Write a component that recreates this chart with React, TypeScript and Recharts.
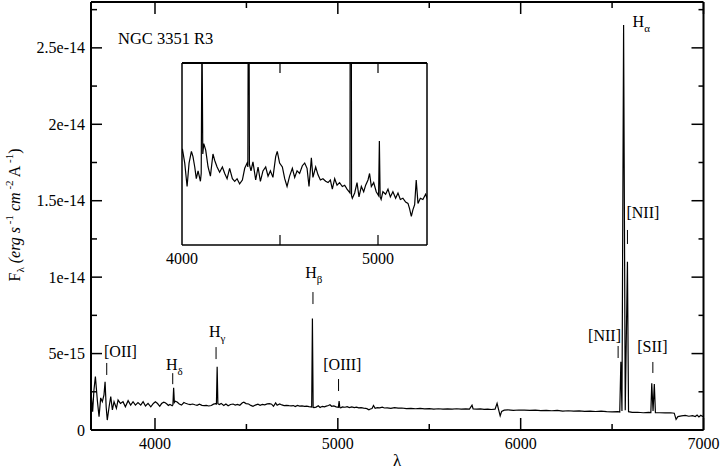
import React from "react";
import { LineChart, Line, XAxis, YAxis, ReferenceDot } from "recharts";

// NGC 3351 R3 spectrum: wavelength in Angstrom, flux in units of 1e-15 erg s^-1 cm^-2 A^-1
const wavelength = [
  3650, 3659, 3666, 3674, 3685, 3694, 3703, 3712, 3721, 3727, 3733, 3739, 3749, 3758, 3767, 3776,
  3789, 3798, 3811, 3825, 3838, 3853, 3867, 3880, 3893, 3907, 3922, 3935, 3948, 3962, 3977, 3991,
  4002, 4014, 4026, 4036, 4048, 4056, 4065, 4073, 4082, 4094, 4098, 4102, 4106, 4111, 4121, 4133,
  4145, 4158, 4167, 4179, 4192, 4206, 4218, 4230, 4243, 4257, 4269, 4281, 4294, 4308, 4320, 4332,
  4336, 4340, 4344, 4352, 4362, 4376, 4388, 4400, 4413, 4427, 4439, 4451, 4464, 4478, 4486, 4498,
  4512, 4524, 4536, 4549, 4563, 4575, 4587, 4600, 4614, 4626, 4638, 4648, 4660, 4668, 4682, 4694,
  4706, 4719, 4733, 4745, 4757, 4767, 4779, 4791, 4804, 4818, 4830, 4842, 4852, 4857, 4861, 4865,
  4869, 4881, 4893, 4903, 4915, 4927, 4937, 4949, 4957, 4966, 4978, 4991, 5003, 5007, 5011, 5016,
  5025, 5039, 5051, 5063, 5076, 5090, 5102, 5114, 5127, 5141, 5153, 5161, 5170, 5178, 5187, 5195,
  5204, 5216, 5229, 5243, 5255, 5270, 5290, 5310, 5330, 5350, 5375, 5400, 5425, 5450, 5475, 5500,
  5525, 5550, 5575, 5600, 5625, 5650, 5675, 5700, 5720, 5734, 5740, 5760, 5780, 5800, 5820, 5840,
  5860, 5871, 5880, 5888, 5896, 5910, 5930, 5960, 5990, 6020, 6050, 6080, 6110, 6140, 6170, 6200,
  6230, 6260, 6290, 6320, 6350, 6380, 6410, 6440, 6470, 6500, 6530, 6542, 6548, 6554, 6563, 6572,
  6584, 6590, 6610, 6640, 6670, 6700, 6712, 6717, 6724, 6731, 6737, 6760, 6790, 6820, 6840, 6850,
  6860, 6880, 6900, 6920, 6940, 6955, 6965, 6975, 6985, 6995, 7000,
];
const flux = [
  2.5, 1.2, 2.6, 3.5, 1.9, 0.87, 2.1, 1.85, 2.3, 3.16, 1.5, 0.65, 1.52, 2.18, 1.31, 1.85,
  1.42, 1.96, 1.74, 1.85, 1.52, 1.92, 1.63, 1.85, 1.63, 1.79, 1.63, 1.85, 1.57, 1.74, 1.52, 1.74,
  1.84, 1.73, 1.55, 1.73, 1.82, 1.78, 1.7, 1.61, 1.67, 1.59, 1.65, 2.77, 1.8, 1.88, 1.83, 1.7,
  1.63, 1.8, 1.75, 1.7, 1.66, 1.7, 1.65, 1.61, 1.69, 1.61, 1.59, 1.61, 1.57, 1.6, 1.69, 1.73,
  1.7, 4.14, 1.72, 1.67, 1.74, 1.6, 1.7, 1.59, 1.67, 1.7, 1.63, 1.67, 1.62, 1.78, 1.82, 1.73,
  1.7, 1.61, 1.55, 1.63, 1.69, 1.62, 1.67, 1.65, 1.71, 1.73, 1.69, 1.55, 1.77, 1.62, 1.7, 1.64,
  1.6, 1.61, 1.59, 1.58, 1.6, 1.53, 1.61, 1.56, 1.58, 1.55, 1.56, 1.53, 1.51, 1.5, 7.3, 1.48,
  1.46, 1.5, 1.58, 1.47, 1.55, 1.51, 1.56, 1.6, 1.65, 1.55, 1.58, 1.51, 1.48, 1.9, 1.47, 1.45,
  1.51, 1.49, 1.53, 1.47, 1.51, 1.46, 1.5, 1.45, 1.46, 1.43, 1.42, 1.38, 1.32, 1.37, 1.41, 1.6,
  1.42, 1.46, 1.45, 1.49, 1.44, 1.45, 1.42, 1.46, 1.43, 1.44, 1.4, 1.42, 1.39, 1.41, 1.38, 1.4,
  1.37, 1.39, 1.36, 1.38, 1.37, 1.39, 1.36, 1.38, 1.37, 1.62, 1.38, 1.36, 1.38, 1.35, 1.37, 1.34,
  1.36, 1.74, 1.3, 0.92, 1.22, 1.3, 1.32, 1.29, 1.31, 1.3, 1.28, 1.3, 1.27, 1.29, 1.26, 1.28,
  1.24, 1.26, 1.23, 1.25, 1.22, 1.24, 1.21, 1.23, 1.2, 1.19, 1.2, 1.18, 4.46, 1.25, 26.5, 1.3,
  11.0, 1.2, 1.15, 1.16, 1.13, 1.15, 1.14, 3.05, 1.25, 3.0, 1.14, 1.13, 1.12, 1.13, 1.1, 0.7,
  0.88, 0.92, 0.95, 0.9, 0.94, 0.88, 0.98, 0.86, 0.96, 0.89, 0.94,
];

const xTicks = [4000, 4500, 5000, 5500, 6000, 6500, 7000];
const xTickLabels: Record<number, string> = { 4000: "4000", 5000: "5000", 6000: "6000", 7000: "7000" };
const yTicks = [0, 2.5, 5, 7.5, 10, 12.5, 15, 17.5, 20, 22.5, 25, 27.5];
const yTickLabels: Record<string, string> = {
  "0": "0", "5": "5e-15", "10": "1e-14", "15": "1.5e-14", "20": "2e-14", "25": "2.5e-14",
};
const insetTicks = [4500, 5000];
const insetTickLabels = [4000, 5000];

// emission line markers: name, subscript, wavelength and flux at the foot of the marker
const lineNames = ["[OII]", "H", "H", "H", "[OIII]", "[NII]", "H", "[NII]", "[SII]"];
const lineSubs = ["", "δ", "γ", "β", "", "", "α", "", ""];
const lineWave = [3736, 4097, 4334, 4864, 5004, 6533, 6563, 6584, 6723];
const lineFoot = [3.6, 3.0, 4.64, 8.24, 2.55, 4.71, 26.5, 12.17, 3.73];

// label placement relative to the marker foot (pixels)
const labelStyle = [
  { len: 12, dx: -2.7, dy: -18 },
  { len: 11, dx: -6.7, dy: -14 },
  { len: 12, dx: -7, dy: -22 },
  { len: 12, dx: -7.7, dy: -26 },
  { len: 12, dx: -15.3, dy: -21 },
  { len: 12, dx: -30, dy: -17 },
  { len: 0, dx: 9, dy: 2 },
  { len: 14, dx: -1, dy: -26 },
  { len: 11, dx: -15.6, dy: -21 },
];

const data = wavelength.map((w, i) => ({ w, f: flux[i] }));

const FONT = "'Liberation Serif', 'Times New Roman', serif";
const L = 91;
const T = 2;
const R = 703.5;
const B = 430;

// inset plot box inside its own svg
const IL = 30;
const IT = 2;
const IW = 245;
const IH = 182;

const BottomTick = ({ x, payload }: any) => {
  const label = xTickLabels[payload.value];
  const len = label ? 12 : 6;
  return (
    <g>
      <line x1={x} x2={x} y1={B} y2={B - len} stroke="#000" strokeWidth={1.5} />
      {label && (
        <text x={x} y={B + 18.5} textAnchor="middle" fontSize={16} fontFamily={FONT} fill="#000">
          {label}
        </text>
      )}
    </g>
  );
};

const TopTick = ({ x, payload }: any) => {
  const len = xTickLabels[payload.value] ? 12 : 6;
  return <line x1={x} x2={x} y1={T} y2={T + len} stroke="#000" strokeWidth={1.5} />;
};

const LeftTick = ({ y, payload }: any) => {
  const label = yTickLabels[String(payload.value)];
  const len = label !== undefined ? 11 : 6;
  return (
    <g>
      <line x1={L} x2={L + len} y1={y} y2={y} stroke="#000" strokeWidth={1.5} />
      {label !== undefined && (
        <text x={L - 6} y={y + 5.5} textAnchor="end" fontSize={16} fontFamily={FONT} fill="#000">
          {label}
        </text>
      )}
    </g>
  );
};

const RightTick = ({ y, payload }: any) => {
  const len = yTickLabels[String(payload.value)] !== undefined ? 12 : 5;
  return <line x1={R} x2={R - len} y1={y} y2={y} stroke="#000" strokeWidth={1.5} />;
};

const InsetBottomTick = ({ x }: any) => (
  <line x1={x} x2={x} y1={IT + IH} y2={IT + IH - 10} stroke="#000" strokeWidth={1.2} />
);
const InsetTopTick = ({ x }: any) => (
  <line x1={x} x2={x} y1={IT} y2={IT + 10} stroke="#000" strokeWidth={1.2} />
);

const lineMarker = (i: number) => (props: any) => {
  const { cx, cy } = props;
  const s = labelStyle[i];
  return (
    <g>
      {s.len > 0 && <line x1={cx} x2={cx} y1={cy} y2={cy - s.len} stroke="#000" strokeWidth={1} />}
      <text x={cx + s.dx} y={cy + s.dy} fontSize={16} fontFamily={FONT} fill="#000">
        {lineNames[i]}
        {lineSubs[i] && (
          <tspan fontSize={11} dy={5}>
            {lineSubs[i]}
          </tspan>
        )}
      </text>
    </g>
  );
};

export default function App() {
  const xStart = wavelength[0];
  const xEnd = wavelength[wavelength.length - 1];
  return (
    <div style={{ position: "absolute", left: 0, top: 0, width: 721, height: 469, background: "#fff" }}>
      <LineChart
        width={721}
        height={469}
        data={data}
        margin={{ top: T - 1, right: 721 - R - 1, bottom: 469 - B - 1, left: L - 1 }}
      >
        <XAxis
          type="number"
          dataKey="w"
          domain={[xStart, xEnd]}
          ticks={xTicks}
          interval={0}
          height={1}
          tickLine={false}
          axisLine={{ stroke: "#000", strokeWidth: 2 }}
          tick={<BottomTick />}
          allowDataOverflow
        />
        <XAxis
          xAxisId="top"
          orientation="top"
          type="number"
          dataKey="w"
          domain={[xStart, xEnd]}
          ticks={xTicks}
          interval={0}
          height={1}
          tickLine={false}
          axisLine={{ stroke: "#000", strokeWidth: 2 }}
          tick={<TopTick />}
          allowDataOverflow
        />
        <YAxis
          type="number"
          domain={[0, 28]}
          ticks={yTicks}
          interval={0}
          width={1}
          tickLine={false}
          axisLine={{ stroke: "#000", strokeWidth: 2 }}
          tick={<LeftTick />}
          allowDataOverflow
        />
        <YAxis
          yAxisId="right"
          orientation="right"
          type="number"
          domain={[0, 28]}
          ticks={yTicks}
          interval={0}
          width={1}
          tickLine={false}
          axisLine={{ stroke: "#000", strokeWidth: 2 }}
          tick={<RightTick />}
          allowDataOverflow
        />
        <Line
          xAxisId="top"
          yAxisId="right"
          dataKey="f"
          stroke="none"
          dot={false}
          isAnimationActive={false}
        />
        <Line
          type="linear"
          dataKey="f"
          stroke="#000"
          strokeWidth={1.2}
          dot={false}
          isAnimationActive={false}
        />
        {lineNames.map((name, i) => (
          <ReferenceDot
            key={`${name}-${i}`}
            x={lineWave[i]}
            y={lineFoot[i]}
            r={1}
            ifOverflow="visible"
            shape={lineMarker(i)}
          />
        ))}
      </LineChart>

      <div style={{ position: "absolute", left: 182.3 - IL, top: 63.3 - IT }}>
        <LineChart
          width={IL + IW + 30}
          height={IT + IH + 30}
          data={data}
          margin={{ top: IT - 1, right: 29, bottom: 29, left: IL - 1 }}
        >
          <XAxis
            type="number"
            dataKey="w"
            domain={[4000, 5250]}
            ticks={insetTicks}
            interval={0}
            height={1}
            tickLine={false}
            axisLine={{ stroke: "#000", strokeWidth: 1.5 }}
            tick={<InsetBottomTick />}
            allowDataOverflow
          />
          <XAxis
            xAxisId="top"
            orientation="top"
            type="number"
            dataKey="w"
            domain={[4000, 5250]}
            ticks={insetTicks}
            interval={0}
            height={1}
            tickLine={false}
            axisLine={{ stroke: "#000", strokeWidth: 2 }}
            tick={<InsetTopTick />}
            allowDataOverflow
          />
          <YAxis
            type="number"
            domain={[1.1, 2.5]}
            width={1}
            tick={false}
            tickLine={false}
            axisLine={{ stroke: "#000", strokeWidth: 1.5 }}
            allowDataOverflow
          />
          <YAxis
            yAxisId="right"
            orientation="right"
            type="number"
            domain={[1.1, 2.5]}
            width={1}
            tick={false}
            tickLine={false}
            axisLine={{ stroke: "#000", strokeWidth: 1.5 }}
            allowDataOverflow
          />
          <Line xAxisId="top" yAxisId="right" dataKey="f" stroke="none" dot={false} isAnimationActive={false} />
          <Line type="linear" dataKey="f" stroke="#000" strokeWidth={1.2} dot={false} isAnimationActive={false} />
        </LineChart>
        <svg
          width={IL + IW + 30}
          height={IT + IH + 30}
          style={{ position: "absolute", left: 0, top: 0, pointerEvents: "none" }}
        >
          {insetTickLabels.map((v) => (
            <text
              key={v}
              x={IL + ((v - 4000) / 1250) * IW}
              y={IT + IH + 18.5}
              textAnchor="middle"
              fontSize={16}
              fontFamily={FONT}
              fill="#000"
            >
              {v}
            </text>
          ))}
        </svg>
      </div>

      <svg width={721} height={469} style={{ position: "absolute", left: 0, top: 0, pointerEvents: "none" }}>
        <text x={118} y={43.5} fontSize={16.5} fontFamily={FONT} fill="#000">
          NGC 3351 R3
        </text>
        <text x={397} y={466} textAnchor="middle" fontSize={17} fontFamily={FONT} fill="#000">
          λ
        </text>
        <text
          transform="translate(19.5, 215) rotate(-90)"
          textAnchor="middle"
          fontSize={16}
          fontFamily={FONT}
          fill="#000"
        >
          <tspan>F</tspan>
          <tspan fontSize={11} dy={4}>λ</tspan>
          <tspan dy={-4} fontStyle="italic"> (erg s</tspan>
          <tspan fontSize={11} dy={-7}> -1</tspan>
          <tspan dy={7} fontStyle="italic"> cm</tspan>
          <tspan fontSize={11} dy={-7}> -2</tspan>
          <tspan dy={7}> A</tspan>
          <tspan fontSize={11} dy={-7}> -1</tspan>
          <tspan dy={7}>)</tspan>
        </text>
      </svg>
    </div>
  );
}
